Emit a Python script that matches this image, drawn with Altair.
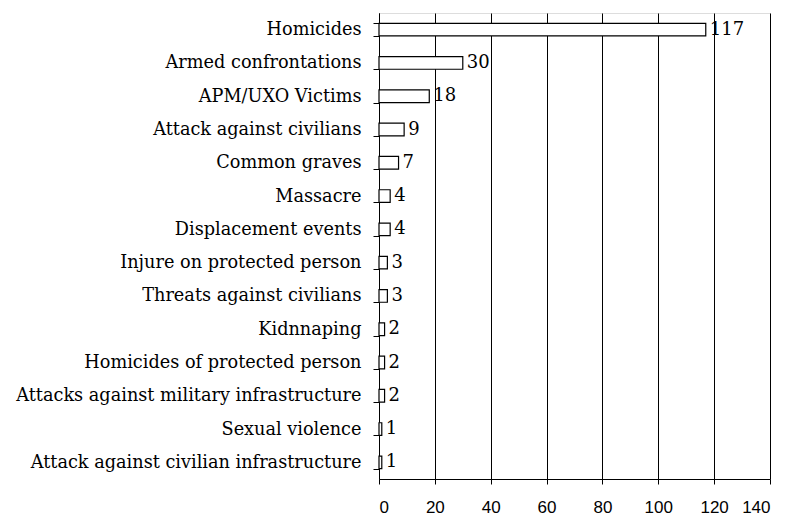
import altair as alt
import pandas as pd

categories = [
    "Homicides",
    "Armed confrontations",
    "APM/UXO Victims",
    "Attack against civilians",
    "Common graves",
    "Massacre",
    "Displacement events",
    "Injure on protected person",
    "Threats against civilians",
    "Kidnnaping",
    "Homicides of protected person",
    "Attacks against military infrastructure",
    "Sexual violence",
    "Attack against civilian infrastructure",
]
values = [117, 30, 18, 9, 7, 4, 4, 3, 3, 2, 2, 2, 1, 1]
x_ticks = [0, 20, 40, 60, 80, 100, 120, 140]

df = pd.DataFrame({"category": categories, "value": values})

serif = "DejaVu Serif"
sans = "Liberation Sans"

y_enc = alt.Y(
    "category:N",
    sort=categories,
    title=None,
    scale=alt.Scale(paddingInner=0.62, paddingOuter=0.31),
    axis=alt.Axis(
        labelFont=serif,
        labelFontSize=17.7,
        labelColor="#000",
        labelPadding=12,
        tickBand="extent",
        tickSize=6,
        tickColor="#000",
        domainColor="#000",
        grid=False,
        labelLimit=500,
    ),
)
x_enc = alt.X(
    "value:Q",
    title=None,
    scale=alt.Scale(domain=[0, 140], nice=False),
    axis=alt.Axis(
        values=x_ticks,
        labelFont=sans,
        labelFontSize=17,
        labelColor="#000",
        labelPadding=15,
        tickSize=5,
        tickColor="#000",
        domainColor="#000",
        grid=True,
        gridColor="#000",
        gridOpacity=1,
    ),
)

bars = alt.Chart(df).mark_bar(fill="white", stroke="black", strokeWidth=1.2).encode(
    x=x_enc, y=y_enc
)
labels = alt.Chart(df).mark_text(
    align="left", baseline="middle", dx=4, font=serif, fontSize=18, color="black"
).encode(
    x=alt.X("value:Q"),
    y=alt.Y("category:N", sort=categories),
    text=alt.Text("value:Q"),
)

chart = (
    alt.layer(bars, labels)
    .properties(
        width=391,
        height=466,
        autosize=alt.AutoSizeParams(type="none"),
        padding={"left": 371, "top": 5, "right": 5, "bottom": 40},
    )
    .configure_view(stroke="#808080", strokeWidth=1)
    .configure(background="white")
)

chart.save("out.html", embed_options={"renderer": "svg", "actions": False})
